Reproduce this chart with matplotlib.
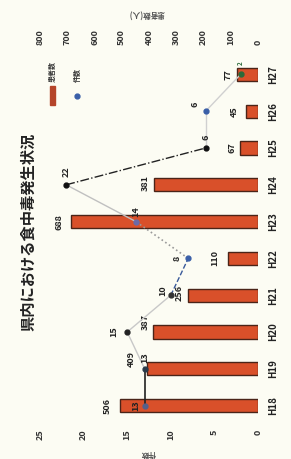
import matplotlib
matplotlib.use("Agg")
import matplotlib.pyplot as plt
from matplotlib.patches import Rectangle
from matplotlib.lines import Line2D

plt.rcParams["font.family"] = ["Noto Sans CJK JP", "DejaVu Sans"]

# data (Heisei years)
years = ["H18", "H19", "H20", "H21", "H22", "H23", "H24", "H25", "H26", "H27"]
patients = [506, 409, 387, 256, 110, 688, 381, 67, 45, 77]   # 患者数
cases = [13, 13, 15, 10, 8, 14, 22, 6, 6, 2]                 # 件数
patient_ticks = [0, 100, 200, 300, 400, 500, 600, 700, 800]
case_ticks = [0, 5, 10, 15, 20, 25]

bg = "#fcfcf3"
bar_color = "#d9502a"
bar_edge = "#4a2418"

# the scanned chart is turned 90 degrees, so categories run bottom -> top
seg_styles = [
    ("#222222", "-", 1.2),
    ("#c8c8c8", "-", 1.0),
    ("#c8c8c8", "-", 1.0),
    ("#3a5a9a", "--", 1.0),
    ("#999999", ":", 1.2),
    ("#c0c0c0", "-", 1.0),
    ("#222222", "-.", 1.0),
    ("#d0d0d0", "-", 1.0),
    ("#d0d0d0", "-", 1.0),
]
marker_colors = ["#55608a", "#2a3a4a", "#222222", "#333333", "#3a5fa8",
                 "#6a6aa8", "#111111", "#111111", "#3a5fa8", "#2a6a3a"]
# label nudges in pixels (x, y)
patient_off = [(-13, 0), (-15, 10), (-7, 10), (-9, 2), (-13, 0),
               (-12, 0), (-9, 2), (-8, 0), (-11, 0), (-9, 0)]
case_off = [(-9, 0), (0, 11), (-13, 0), (-8, 5), (-11, 0),
            (0, 10), (0, 13), (0, 11), (-11, 7), (0, 11)]

fig = plt.figure(figsize=(2.91, 4.59), dpi=100, facecolor=bg)
ax = fig.add_axes([40 / 291, 1 - 424 / 459, 218 / 291, 368 / 459])
ax.set_facecolor(bg)
ypos = list(range(len(years)))

ax.barh(ypos, patients, height=0.36, color=bar_color, edgecolor=bar_edge, linewidth=1.0)
ax.set_xlim(800, 0)
ax.set_ylim(-0.5, len(years) - 0.5)
ax.yaxis.tick_right()
ax.set_yticks(ypos)
ax.set_yticklabels(years, rotation=90, fontsize=7, fontweight="bold",
                   va="center", color="#222222")
ax.tick_params(axis="y", length=0, pad=7)
for s in ax.spines.values():
    s.set_visible(False)

for y, p, (dx, dy) in zip(ypos, patients, patient_off):
    ax.annotate(str(p), (p, y), xytext=(dx, dy), textcoords="offset pixels",
                rotation=90, ha="center", va="center", fontsize=6.5,
                fontweight="bold", color="#222222")

ax2 = ax.twiny()
ax2.set_xlim(25, 0)
ax2.xaxis.tick_bottom()
ax2.set_xticks(case_ticks)
ax2.set_xticklabels([str(t) for t in case_ticks], rotation=90, fontsize=6.5,
                    color="#333333", fontweight="bold")
ax2.tick_params(axis="x", length=0, pad=4)
for s in ax2.spines.values():
    s.set_visible(False)

# patients scale on top
ax.xaxis.tick_top()
ax.set_xticks(patient_ticks)
ax.set_xticklabels([str(t) for t in patient_ticks], rotation=90, fontsize=6.5,
                   color="#333333", fontweight="bold")
ax.tick_params(axis="x", length=0, pad=8)

for i in range(len(years) - 1):
    c, ls, lw = seg_styles[i]
    ax2.plot(cases[i:i + 2], ypos[i:i + 2], color=c, linestyle=ls, linewidth=lw, zorder=3)
for y, c, mc, (dx, dy) in zip(ypos, cases, marker_colors, case_off):
    ax2.plot(c, y, "o", markersize=3.5, color=mc, zorder=4)
    ax2.annotate(str(c), (c, y), xytext=(dx, dy), textcoords="offset pixels",
                 rotation=90, ha="center", va="center",
                 fontsize=4.5 if c == 2 else 6.5,
                 fontweight="bold", color="#2a6a3a" if c == 2 else "#222222")

# title and axis names
fig.text(28 / 291, 1 - 232 / 459, "県内における食中毒発生状況", rotation=90,
         ha="center", va="center", fontsize=11, fontweight="bold", color="#222222")
fig.text(147 / 291, 1 - 13 / 459, "患者数(人)", rotation=180, ha="center", va="center",
         fontsize=5.5, color="#555555", fontweight="bold")
fig.text(148 / 291, 1 - 454 / 459, "件数", rotation=180, ha="center", va="center",
         fontsize=5.5, color="#555555", fontweight="bold")

# legend (turned with the chart)
fig.patches.append(Rectangle((50 / 291, 1 - 105 / 459), 5 / 291, 19 / 459,
                             transform=fig.transFigure, color="#b5452a"))
fig.text(52 / 291, 1 - 71 / 459, "患者数", rotation=90, ha="center", va="center",
         fontsize=5, color="#333333", fontweight="bold")
fig.lines.append(Line2D([77 / 291], [1 - 96 / 459], marker="o", markersize=3.5,
                        color="#3a5fa8", transform=fig.transFigure))
fig.text(77 / 291, 1 - 75 / 459, "件数", rotation=90, ha="center", va="center",
         fontsize=5, color="#333333", fontweight="bold")

fig.savefig("out.png", dpi=100, facecolor=bg)
